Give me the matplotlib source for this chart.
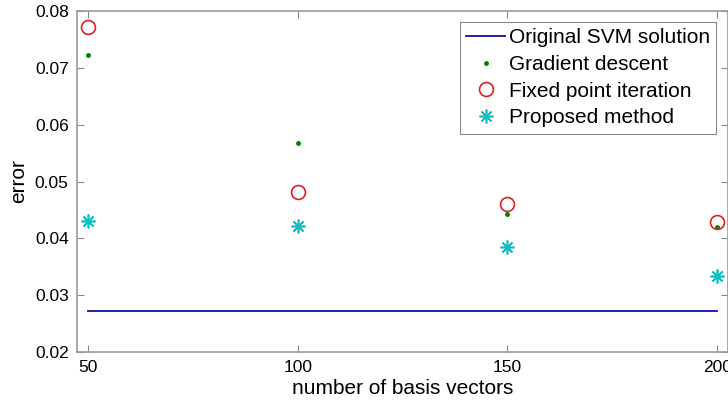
import matplotlib
matplotlib.use('Agg')
import matplotlib.pyplot as plt

plt.rcParams['font.family'] = ['Liberation Sans', 'DejaVu Sans']

# data
n_basis = [50, 100, 150, 200]
svm_err = [0.0272, 0.0272, 0.0272, 0.0272]
grad_err = [0.0723, 0.0567, 0.0442, 0.0420]
fixed_err = [0.0771, 0.0481, 0.0460, 0.0428]
prop_err = [0.0430, 0.0422, 0.0384, 0.0333]

fig = plt.figure(figsize=(7.28, 4.05), dpi=100)
ax = fig.add_axes([77/728, 1-352/405, 651/728, 341/405])

ax.plot(n_basis, svm_err, '-', color='#1010a0', lw=1.3, label='Original SVM solution')
ax.plot(n_basis, grad_err, '.', color='#008000', ms=5, label='Gradient descent')
ax.plot(n_basis, fixed_err, 'o', mfc='none', mec='#dd2020', ms=10, mew=1.2,
        label='Fixed point iteration')
ax.plot(n_basis, prop_err, ls='none', marker=(8, 2, 0), color='#10c0c0', ms=10,
        mew=1.2, label='Proposed method')

ax.set_xlim(47.4, 202.6)
ax.set_ylim(0.02, 0.08)
ax.set_xticks([50, 100, 150, 200])
ax.set_yticks([0.02, 0.03, 0.04, 0.05, 0.06, 0.07, 0.08])
ax.set_yticklabels(['0.02', '0.03', '0.04', '0.05', '0.06', '0.07', '0.08'])
ax.tick_params(direction='in', top=True, right=True, length=5, color='#888888',
               labelsize=12.5)
ax.tick_params(axis='x', pad=6)
ax.tick_params(axis='y', pad=6)
for s in ax.spines.values():
    s.set_color('#999999')
    s.set_linewidth(1.2)

ax.set_xlabel('number of basis vectors', fontsize=15, labelpad=3)
ax.set_ylabel('error', fontsize=15, labelpad=5)

leg = ax.legend(loc='upper right', bbox_to_anchor=(716/651 - 77/651, 1 - 11/341),
                fontsize=15, fancybox=False, framealpha=1, edgecolor='#888888',
                borderpad=0.3, labelspacing=0.37, handlelength=1.9,
                handletextpad=0.15, borderaxespad=0)
leg.get_frame().set_linewidth(0.8)

fig.savefig('out.png', dpi=100)
